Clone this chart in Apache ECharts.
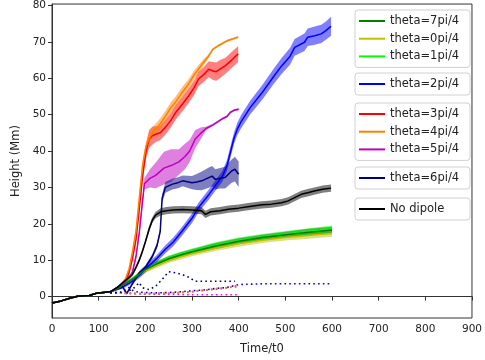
<!DOCTYPE html>
<html>
<head>
<meta charset="utf-8">
<script src="https://cdn.jsdelivr.net/npm/echarts@6/dist/echarts.min.js"></script>
<style>
  html, body { margin: 0; padding: 0; background: #fff; }
  #main { width: 485px; height: 360px; }
</style>
</head>
<body>
<div id="main"></div>
<script>
// shared start of every run
var tEarly = [0, 20, 40, 55, 80, 95, 110, 125];
var vEarly = [-1.8, -1.2, -0.4, 0.1, 0.3, 0.9, 1.1, 1.3];
var sEarly = [0, 0, 0, 0, 0, 0, 0, 0.2];

// theta = 7,0,1 pi/4 share the time grid
var tSlow = [140, 150, 175, 200, 225, 250, 275, 300, 350, 400, 450, 500, 550, 600];
var v7 = [2.2, 3.0, 5.0, 7.4, 9.0, 10.4, 11.4, 12.3, 13.9, 15.2, 16.2, 17.0, 17.7, 18.3];
var v0 = [2.1, 2.9, 4.8, 7.1, 8.6, 9.9, 10.9, 11.8, 13.3, 14.5, 15.5, 16.2, 16.8, 17.3];
var v1 = [2.2, 3.0, 5.1, 7.5, 9.1, 10.6, 11.6, 12.5, 14.1, 15.4, 16.4, 17.2, 17.9, 18.6];
var sSlow = [0.3, 0.4, 0.5, 0.6, 0.7, 0.7, 0.7, 0.7, 0.8, 0.8, 0.8, 0.8, 0.9, 0.9];

// theta = 2pi/4
var t2 = [140, 150, 172, 190, 208, 225, 243, 260, 279, 300, 314, 336, 350, 365, 375, 383, 390, 397, 405, 425, 450, 475, 492, 510, 520, 541, 548, 563, 577, 587, 598];
var v2 = [2.0, 2.5, 4.2, 6.2, 8.5, 10.5, 13, 15, 18, 21.5, 24.5, 28, 30.5, 33, 36, 40, 43.5, 46, 48, 52, 56, 60.5, 63.4, 66, 68.5, 69.9, 71.3, 71.7, 72.2, 73.1, 74.3];
var s2 = [0.3, 0.4, 0.6, 0.8, 0.9, 1, 1.1, 1.2, 1.2, 1.3, 1.3, 1.4, 1.4, 1.5, 1.5, 1.6, 1.6, 1.7, 1.8, 1.9, 2, 2.1, 2.2, 2.3, 2.3, 2.4, 2.4, 2.5, 2.5, 2.5, 2.6];

// theta = 3pi/4
var t3 = [140, 150, 158, 165, 172, 180, 187, 194, 201, 208, 215, 222, 232, 243, 255, 265, 280, 293, 305, 314, 325, 336, 345, 352, 360, 371, 385, 399];
var v3 = [2.2, 3.2, 4.5, 6.5, 10.2, 15.7, 24, 33, 39.6, 43.3, 44.2, 44.6, 45, 46.5, 48.5, 50.6, 53, 55.2, 57.5, 59.8, 61, 62.5, 62, 61.8, 62.5, 63.4, 65, 66.7];
var s3 = [0.3, 0.4, 0.5, 0.6, 0.8, 1, 1.2, 1.5, 2, 2.5, 2.5, 2.2, 2, 2, 2, 2, 2, 2, 2, 2, 2, 2.2, 2.5, 2.5, 2.5, 2.2, 2.2, 2.2];

// theta = 4pi/4
var t4 = [140, 150, 158, 165, 172, 180, 187, 194, 201, 208, 215, 222, 232, 243, 255, 265, 279, 293, 305, 322, 335, 345, 357, 375, 399];
var v4 = [2.3, 3.5, 5, 7.5, 12, 18, 27, 36, 41, 43.5, 45, 46, 47.5, 49.5, 52, 53.5, 56.1, 58.5, 61, 63.9, 66, 68, 69, 70.3, 71.3];
var s4 = [0.2, 0.3, 0.4, 0.5, 0.6, 0.8, 1, 1.2, 1.3, 1.5, 1.5, 1.5, 1.5, 1.5, 1.5, 1.5, 1.5, 1.3, 1.2, 1, 0.5, 0.3, 0.3, 0.3, 0.3];

// theta = 5pi/4
var t5 = [140, 150, 158, 165, 172, 180, 187, 193, 198, 210, 222, 240, 255, 272, 285, 295, 307, 320, 330, 345, 364, 375, 382, 390, 400];
var v5 = [2.2, 3.2, 4.2, 5.2, 6.5, 11, 17.5, 25, 31, 32.5, 33.3, 35.3, 36, 37, 38.5, 40, 43.3, 45, 46.2, 47.2, 48.8, 49.5, 50.6, 51.2, 51.5];
var s5 = [0.2, 0.3, 0.4, 0.5, 0.6, 0.8, 1, 1.5, 1.6, 2.5, 3.5, 4.5, 4.5, 3.5, 3.5, 3, 2.5, 1.5, 0.5, 0.3, 0.3, 0.3, 0.3, 0.3, 0.3];

// theta = 6pi/4
var t6 = [140, 150, 160, 170, 187, 200, 215, 225, 232, 236, 243, 258, 270, 280, 300, 310, 321, 336, 343, 350, 360, 371, 385, 392, 400];
var v6 = [2.5, 3.0, 0.8, 3, 6.5, 8, 11, 14, 18, 27, 30, 30.9, 31.3, 31.8, 31.3, 31.5, 31.8, 32.7, 33.1, 32.2, 32.5, 32.7, 34.5, 35, 33.6];
var s6 = [0.2, 0.3, 0.3, 0.4, 0.5, 0.6, 0.7, 0.8, 0.9, 1.2, 1.5, 1.5, 1.5, 1.5, 1.8, 2.2, 2.6, 2.8, 2.8, 2.8, 2.8, 3, 3.2, 3.4, 3.5];

// no dipole
var tNd = [140, 158, 172, 180, 187, 194, 200, 208, 215, 222, 233, 245, 260, 280, 300, 320, 329, 340, 360, 378, 400, 420, 450, 470, 492, 506, 520, 534, 550, 562, 580, 598];
var vNd = [2.5, 4.5, 6, 8, 10, 12.5, 15, 18.5, 21, 22.4, 23.3, 23.6, 23.8, 23.9, 23.8, 23.6, 22.6, 23.3, 23.6, 24, 24.3, 24.7, 25.2, 25.4, 25.8, 26.3, 27.2, 28.1, 28.6, 29, 29.5, 29.8];
var sNd = [0.3, 0.4, 0.5, 0.6, 0.6, 0.7, 0.7, 0.8, 0.8, 0.9, 1, 1, 1, 1, 1, 1, 1, 1, 1, 1, 1, 1, 1, 1, 1, 1, 1, 1, 1, 1, 1, 1];

// dotted curves
var tDot6 = [125, 150, 172, 187, 194, 208, 222, 236, 250, 265, 280, 293, 307, 330, 360, 392];
var vDot6 = [1, 1.2, 1.9, 3.8, 2.4, 1.9, 2.8, 4.7, 6.8, 6.5, 6, 5.3, 4.2, 4.2, 4.2, 4.2];
var tDot2 = [125, 150, 165, 175, 185, 200, 225, 250, 275, 300, 325, 350, 375, 400, 450, 500, 550, 600];
var vDot2 = [1, 1.2, 2.5, 1.5, 1.2, 1.1, 1, 1.1, 1.3, 1.6, 1.8, 2.2, 2.5, 3.3, 3.5, 3.5, 3.5, 3.5];
var tDot3 = [125, 200, 250, 300, 325, 350, 375, 400];
var vDot3 = [1, 0.8, 0.9, 1.3, 1.7, 2.0, 2.4, 3.0];
var tDot4 = [125, 200, 250, 300, 325, 350, 375, 400];
var vDot4 = [1, 0.8, 0.9, 1.4, 1.8, 2.2, 2.5, 2.6];
var tDot5 = [125, 200, 300, 400];
var vDot5 = [1, 0.7, 0.5, 0.5];

var yTicks = [0, 10, 20, 30, 40, 50, 60, 70, 80];

var FONT = 'DejaVu Sans';
var series = [];

function pairs(t, v) {
    var out = [];
    for (var i = 0; i < t.length; i++) out.push([t[i], v[i]]);
    return out;
}

// shaded band: one polygon through the axis scales
function bandRender(color, rows) {
    return function (params, api) {
        if (params.dataIndex !== 0) return;
        var top = [], bot = [];
        for (var i = 0; i < rows.length; i++) {
            top.push(api.coord([rows[i][0], rows[i][2]]));
            bot.unshift(api.coord([rows[i][0], rows[i][1]]));
        }
        return {
            type: 'polygon',
            shape: { points: top.concat(bot) },
            style: { fill: color, opacity: 0.5 },
            silent: true
        };
    };
}

// line with a shaded band of +/- s around it
function addRun(name, color, t, v, s) {
    var tt = tEarly.concat(t), vv = vEarly.concat(v), ss = sEarly.concat(s);
    var rows = [];
    for (var i = 0; i < tt.length; i++) {
        rows.push([tt[i], vv[i] - ss[i], vv[i] + ss[i]]);
    }
    series.push({
        name: name + ' band', type: 'custom', silent: true,
        renderItem: bandRender(color, rows),
        encode: { x: 0, y: [1, 2] },
        data: rows
    });
    series.push({
        name: name, type: 'line', symbol: 'none',
        lineStyle: { color: color, width: 1.5 }, itemStyle: { color: color },
        data: pairs(tt, vv)
    });
}

function addDots(name, color, t, v) {
    series.push({
        name: name, type: 'line', symbol: 'none', silent: true,
        lineStyle: { color: color, width: 1.6, type: [1.6, 3.2] },
        data: pairs(t, v)
    });
}

addRun('theta=0pi/4', '#bfbf00', tSlow, v0, sSlow);
addRun('theta=1pi/4', '#00ff00', tSlow, v1, sSlow);
addRun('theta=2pi/4', '#0000ff', t2, v2, s2);
addRun('theta=3pi/4', '#ff0000', t3, v3, s3);
addRun('theta=4pi/4', '#ff8000', t4, v4, s4);
addRun('theta=5pi/4', '#bf00bf', t5, v5, s5);
addRun('theta=6pi/4', '#000080', t6, v6, s6);
addRun('theta=7pi/4', '#008000', tSlow, v7, sSlow);
addRun('No dipole', '#000000', tNd, vNd, sNd);
addDots('dot 5', '#ff00ff', tDot5, vDot5);
addDots('dot 3', '#ff0000', tDot3, vDot3);
addDots('dot 4', '#ff8000', tDot4, vDot4);
addDots('dot 2', '#0000ff', tDot2, vDot2);
addDots('dot 6', '#000080', tDot6, vDot6);

function legendBox(top, names) {
    return {
        data: names, orient: 'vertical', left: 355, top: top,
        padding: [4, 5, 4, 4], itemGap: 3.7, itemWidth: 26, itemHeight: 2, itemTextGap: 8,
        icon: 'rect',
        borderColor: '#d0d0d0', borderWidth: 1, borderRadius: 3,
        selectedMode: false,
        textStyle: { fontFamily: FONT, fontSize: 11.5, color: '#222', width: 75, lineHeight: 14 }
    };
}

var myChart = echarts.init(document.getElementById('main'));
var option = {
    animation: false,
    backgroundColor: '#fff',
    textStyle: { fontFamily: FONT },
    grid: {
        left: 52, right: 10, top: 4, bottom: 42,
        show: true, borderColor: '#333', borderWidth: 1
    },
    legend: [
        legendBox(10, ['theta=7pi/4', 'theta=0pi/4', 'theta=1pi/4']),
        legendBox(73, ['theta=2pi/4']),
        legendBox(103, ['theta=3pi/4', 'theta=4pi/4', 'theta=5pi/4']),
        legendBox(167, ['theta=6pi/4']),
        legendBox(198, ['No dipole'])
    ],
    xAxis: {
        type: 'value', min: 0, max: 900, interval: 100,
        name: 'Time/t0', nameLocation: 'middle', nameGap: 25,
        nameTextStyle: { fontFamily: FONT, fontSize: 11.5, color: '#222' },
        axisLine: { lineStyle: { color: '#333' } },
        axisTick: { length: 4, lineStyle: { color: '#333' } },
        axisLabel: { fontFamily: FONT, fontSize: 10.5, color: '#222', margin: 6 },
        splitLine: { show: false }
    },
    yAxis: {
        type: 'value', min: -5.9, max: 80.4,
        name: 'Height (Mm)', nameLocation: 'middle', nameGap: 25.5,
        nameTextStyle: { fontFamily: FONT, fontSize: 11.5, color: '#222' },
        axisLine: { show: true, lineStyle: { color: '#333' } },
        axisTick: { show: true, length: 4, customValues: yTicks, lineStyle: { color: '#333' } },
        axisLabel: { fontFamily: FONT, fontSize: 10.5, color: '#222', margin: 6, customValues: yTicks },
        splitLine: { show: false }
    },
    series: series
};
myChart.setOption(option);
</script>
</body>
</html>
